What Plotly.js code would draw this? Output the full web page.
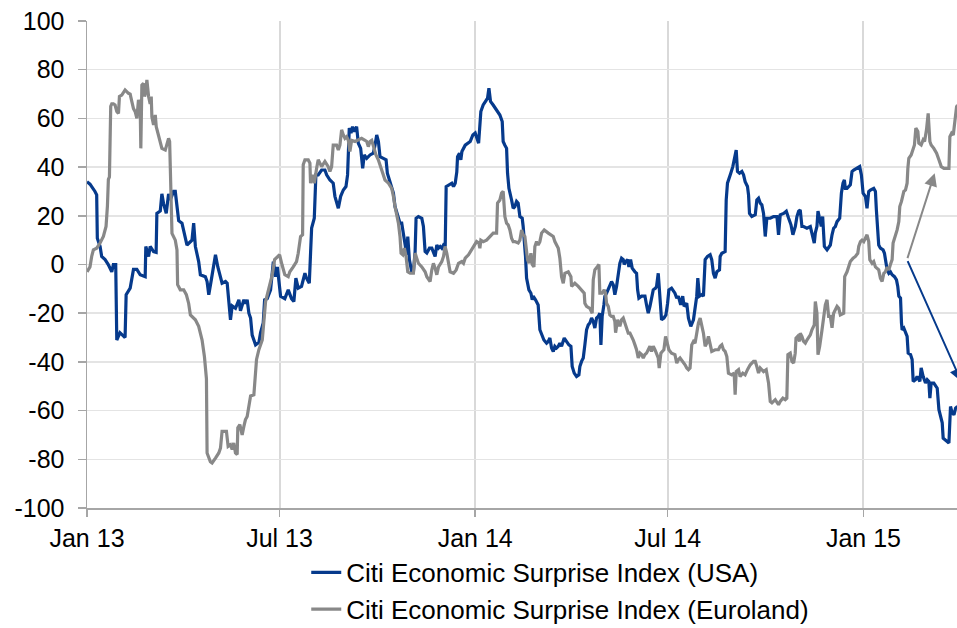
<!DOCTYPE html>
<html>
<head>
<meta charset="utf-8">
<script src="https://cdn.plot.ly/plotly-3.0.1.min.js"></script>
<style>
  html, body { margin: 0; padding: 0; background: #fff; }
  #chart { width: 957px; height: 628px; }
</style>
</head>
<body>
<div id="chart"></div>
<script>
// Days since 1 Jan 2013 and index values.
const seriesNames = ["Citi Economic Surprise Index (USA)", "Citi Economic Surprise Index (Euroland)"];

const usaDay = [
  0,2.8,7.5,9.1,9.7,12.3,13.8,17,20,23.3,
  24.8,27,28,31,35.8,36.8,40.6,43.7,46.9,50,
  54.7,55.3,57.9,59.4,62.6,65,65.7,68.9,70.4,72,
  74.5,76.7,78.3,81.4,83,84.6,86.2,89.3,92.5,94,
  98.7,100.3,101.9,105,106.6,111.3,112.9,114.5,117,119.2,
  120.8,123,127,130.2,131.8,134.9,136.5,139.6,142.8,144.3,
  147.5,149,150.6,152.2,153.8,155.3,158.5,161.6,163.2,165.7,
  167,169.5,172.6,175.2,177.4,179,180.5,182,
  186,189.2,192.3,194.5,196.4,198.6,201.7,204.9,206.4,209,
  210.2,211.2,213.7,215.2,217.4,220.6,223.7,225.3,228.4,231.5,
  233.1,236.3,238.5,241,243.5,245,246.6,248.2,249.7,251.3,
  253.5,255.1,257.3,259.2,260.7,263,266.1,269.2,270.8,272.4,
  274,275.5,278.6,281.2,282.4,285,286.5,288.1,289.6,292.8,
  294.3,295.9,297.5,299,300.6,301.6,303.1,305.3,306.9,308.5,
  309.4,311.6,314.8,316.3,317,317.9,319.5,322,324.2,325.8,
  327.3,328.9,330.5,332.1,333.6,335.2,336.8,337.7,339.9,343,
  344.6,346.2,347.7,348.4,350.2,351.5,352.5,354,355.6,360.3,
  362.8,365,368.2,
  370.3,372.5,374.7,376.6,377.9,379.4,381.9,385.1,388.2,390.4,
  391.3,392.9,394.5,395.4,396.7,399.2,400.7,402.3,403.9,405.4,
  407,409.2,410.1,412.3,413.3,415.5,417.4,418.6,419.5,421.7,
  424.2,425.8,427.4,429.6,432.1,433.7,435.2,436.8,438.4,439.9,
  441.5,443.1,444.6,446.2,448.7,450.9,453.1,455,456.2,458.1,
  460.3,462.5,463.4,465,466.6,468.1,469.7,471.3,472.8,474.4,
  476,477.5,479.1,480.7,482.2,483.2,484.4,486,486.9,488.5,
  490.1,491.6,493.2,494.8,496.3,497.9,499.5,501,502.6,504.2,
  505.1,506.4,508.3,509.5,511.1,512.6,515.2,516.7,517.7,518.9,
  521.4,524.6,526.1,527.7,529.3,530.8,532.4,534.6,535.5,537.1,
  538.7,540.2,542.4,544.3,545.9,547.1,549.6,552.8,
  554.5,556,558.2,560.1,561.4,563.9,565.5,567.7,570.2,571.7,
  573.3,574.3,575.8,578,579.6,581.2,583.4,585.9,587.4,589,
  590.6,592.2,594.7,595.3,596.9,600,601,602.2,604.1,605.3,
  607.2,608.5,610.4,611.6,613.5,615.7,617.3,618.8,621,622,
  622.9,625.1,628.3,629.8,631.4,633,634.5,636.1,637.7,639.2,
  642.4,645.5,648.7,650.2,651.8,655,657.5,659.7,661.9,663.7,
  666,667.5,669.1,670.6,672.2,673.8,676.9,680.1,681.6,683.8,
  684.8,686.3,687.3,688.9,690.4,691.7,693.3,695.8,698.9,700.5,
  702,703.6,705.2,707.7,709.3,710.8,712.1,713,714.6,717.7,
  719.3,720.9,724,726.5,728.1,729.7,731.9,733.4,735,
  736.6,739.7,741.3,742.2,743.5,744.4,746,748.5,749.8,750.7,
  752.3,753.9,755.4,757,759.2,761.1,762.3,763.3,764.9,765.8,
  766.4,768,769.6,771.1,772.1,774.3,775.8,776.8,779,780.5,
  783.1,784.3,786.2,788.4,790,791.5,792.5,793.7,796.2,799.4,
  801,802.5,804.1,805,807.2,809.4,810.4,811.9,813.5,815.1,
  816.7,818.5
];
const usaVal = [
  34,33,30,28.6,10.8,7.4,3.3,2,0,-3,
  0,0,-31,-28,-30,-12.4,-9.7,-2,-2,-4.2,
  -5,7.4,3.3,7.4,5.3,5,21,22,29,25,
  21,29,26.5,30,30,25,18,17,10,8,
  10,17,7.4,1.2,-4.2,-5,-7,-12.4,-6,-1,
  4,-1,-7.7,-7,-7.7,-22.7,-17,-18,-14.5,-19,
  -14.5,-16,-14.5,-20,-22,-29,-33,-32,-28,-24,
  -14.5,-14,-10.4,1.2,-5,-1,-7,-13,
  -14,-10.4,-14,-15.2,-5.6,-9.7,-9,-3.6,-5.6,-7.7,
  4.6,15,19,36.8,36.8,38.8,38.8,36.8,34.7,33.4,
  28,23.1,28,30.6,32,36.8,56,54,56.6,54.6,
  56.6,49.8,47.7,39.5,45,43.6,45,45.7,49,53.2,
  50.5,44.3,43.6,43,37.5,34,31.3,29.3,23.8,19.7,
  17,17,12.9,10,4,11.5,2,-3,-3,5.3,
  19,19.7,19,15.6,9.4,5.3,4.7,6.7,6.7,5.3,
  3.3,8,6.7,7.4,6.7,8,7.4,32,32.7,33.4,
  32,33.4,38,44.3,45.7,43,46.4,47.7,49,50.5,
  53.2,54,49.8,
  62.8,65.5,67,68.3,72.4,67,65.5,63.5,61.4,58.7,
  50.5,49,47.7,37.5,31.3,26.5,23.1,23.8,25.9,25.2,
  19.7,19,15.6,3.3,-5.6,-10.4,-11.8,-14.5,-13,-14.5,
  -16.6,-26.8,-28.9,-31,-32.3,-31.6,-30.2,-34.3,-35.7,-33.6,
  -34.3,-33.6,-32.3,-33.6,-30.2,-31.6,-33,-33.6,-41.9,-44.6,
  -46,-45.3,-41.9,-39.8,-38.4,-33,-26.8,-24.8,-24,-22,
  -23.4,-26.1,-22,-21.3,-20,-33,-21.3,-16.6,-13,-11.8,
  -10.4,-9,-7,-8.3,-12.4,-9,-3.6,0.5,2.6,2,
  0,1.2,2,-1,2,-1.5,-3,-3.6,-10.4,-13.8,
  -13,-13,-16.6,-20,-17.2,-13,-10.4,-9.7,-9,-3.6,
  -11.8,-22.7,-22,-20.7,-15.9,-10.4,-9.7,-11.8,
  -13.8,-13,-16.6,-13,-17.2,-15.9,-22,-25.4,-22.7,-17.2,
  -13,-5.6,-13,-12.4,-13,2,3.3,4,2,-3.6,
  -5.6,-3,-2.2,3.3,4.6,5.3,26.5,33.4,35.4,37.5,
  40.2,42.8,47,38.2,37.5,38.2,36.8,34,32,28.6,
  21,19.7,20.4,26.5,27.2,25.2,24.5,21,11.5,19,
  19,19.7,19.7,12.2,20.4,21,21.9,19,16.3,12.2,
  15.6,19.7,21.9,22.4,15.6,15.6,14.9,15.6,12.2,8.8,
  13,15.6,21.9,19,15.6,19.7,7.4,6,8,12.2,
  14.9,15.6,17.6,19,29.3,33.4,34.7,31.3,31.3,32.7,
  38.2,38.8,39.5,40.2,36.8,29.3,27.9,23.1,30,
  30.6,31.3,30,22.4,15.6,8,6.7,6,4.6,2.6,
  -2.2,-3.6,-3,-4.2,-5,-6.3,-9,-13,-13.8,-24,
  -26.8,-26.1,-28.2,-29.5,-36.4,-37,-39,-48,-47.3,-46,
  -48,-42.5,-46,-48.7,-47.3,-48,-54.9,-48.7,-48.7,-50.8,
  -59.6,-63,-65,-71.3,-72,-72.6,-73.3,-58.3,-61,-61.7,
  -59,-58.3
];

const eurDay = [
  0,2.8,4.4,6,9.1,12.3,15.4,17.9,19.2,20.1,
  21.1,22.3,23.3,24.8,26.4,28,29.6,30.5,32.7,34.3,
  35.8,39,40.6,42.1,43.7,45.3,46.9,48.4,50,50.6,
  51.6,53.1,54.1,55.3,56.3,57.9,59.4,60.4,61,62.6,
  64.2,65.1,67.3,70.4,73.6,76.7,77.7,78.9,79.9,83,
  84.6,85.2,87.7,90.9,93.4,95.6,97.2,101.9,105,108.2,
  110.4,112.3,112.9,116,117.6,120.8,123.9,125.5,127,131.1,
  132.7,134.9,136.5,138,139.6,141.2,141.8,143.7,145.9,147.5,
  149,150.6,153.8,156.9,159.4,161.6,164.8,167.9,171.1,174.2,
  176.4,178.9,181.1,183.3,186,
  189.2,190.7,193.9,195.4,197,198.6,200.8,202.7,203.3,204.9,
  208,209.6,210.2,212.1,213.7,215.9,217.4,220.6,223.7,226.8,
  228.4,230,231.5,234.7,236.3,237.8,239.4,241,242.5,244.1,
  245.7,247.2,248.8,252,255.1,258.2,261.4,263,264.5,266.1,
  267.7,269.9,271.7,273.9,277.1,280.2,283.4,286.5,288.1,289.6,
  292.8,294.3,295.3,296.9,298.4,300,301.6,303.8,306.9,308.5,
  310,311.6,314.8,317.9,319.5,321,322.6,324.2,325.7,327.3,
  328.9,330.5,333.6,335.2,336.7,338.3,339.9,341.4,344.6,347.1,
  349.3,352.4,354,355.6,358.7,361.8,365,
  366.3,368.4,369.4,370.3,372.5,375.7,378.8,381.9,385.1,386,
  388.2,389.8,391.3,392.9,394.5,396,397.6,399.2,400.7,402.3,
  405.4,407,408.6,410.1,411.7,413.3,414.2,415.5,417.4,418.6,
  420.2,421.1,422.7,424.2,425.8,427.4,429.9,433.7,438.4,439.9,
  443.1,444.6,446.2,447.8,449.3,452.5,455,455.6,457.2,458.7,
  461.9,465,467.5,468.1,469.7,472.8,473.8,475,476,477.5,
  480,481.3,482.2,484.4,486.3,487.6,488.5,490.1,491.6,493.2,
  494.8,496.3,497,498.9,501,502.6,504.2,505.8,507.3,508.9,
  510.5,512,513.6,515.2,516.7,518.3,519.9,521.4,523,524.6,
  526.1,527.7,529.3,530.8,532.4,534,535.5,537.1,538,539.6,
  540.9,542.4,544,545.6,547.1,549.6,552.8,
  554.5,556,557.6,560.1,562.3,563.9,565.5,567,568.6,570.2,
  571.7,573.3,574.9,576.5,578,579.6,581.2,582.7,584.3,585.9,
  587.4,590.6,593.7,595.3,596.9,598.4,600,601.6,603.1,606.3,
  608.5,609.4,610.4,612.6,614.1,616.6,618.8,621,623.6,626.7,
  628.3,629.8,631.4,633,636.1,638.6,639.9,640.8,642.4,644,
  647.1,650.2,651.8,654.3,656.5,658,659,661.2,662.8,664.4,
  665.9,666.6,668.1,670,670.6,672.2,673.8,675.4,676.9,680.1,
  681.6,683.8,684.8,686.3,687.3,688.9,691.1,692.6,694.2,695.8,
  697.3,698.9,700.5,702,703.6,705.2,706.8,708.3,711.5,712.4,
  714.6,716.2,717.7,720.3,722.5,724.7,725.6,727.2,728.7,730.3,
  731.9,733.4,735,736,
  738.2,739.7,741.3,742.9,744.4,746,747.6,749.2,750.7,752.3,
  753.9,755.4,757,757.9,759.5,761.7,763.3,764.2,765.8,768,
  769.6,771.1,771.8,772.7,774.9,776.8,778,779.3,781.2,782.1,
  784.3,786.2,787.5,789.3,790.9,792.5,793.7,796.2,798.8,801,
  803.2,805.7,808.2,810.4,811.3,812.9,814.5,815.7,816.7,817.6,
  818.5
];
const eurVal = [
  -3,-1,3.3,6,6.7,8.8,11.5,15.6,24,35,
  36,65,66,66,65.5,62.8,62,69,69.6,71,
  71.7,70.3,70,67,64,62.8,60,67.6,65,47.7,
  73.7,74.4,69,71,75.8,69,66,69,60.7,57.3,
  61.4,56.6,52.5,47.7,47,51.8,50.5,26.5,12.8,10,
  6,-8.3,-10.4,-10.4,-12.4,-16,-20.7,-22.7,-25.4,-31,
  -37.8,-47,-77.4,-81,-81.5,-79.5,-77.4,-75.4,-68.5,-68.5,
  -74.7,-74,-76,-73.3,-77.4,-78,-67,-65.8,-70,-66.5,
  -63.7,-62.4,-54,-53.5,-39,-35,-31,-15.2,-9,-4.2,
  2,3.3,4,0,-4.2,
  -5,-3,-1,0,1.2,4.6,11.5,12.2,41,43,
  43,41.6,33.4,36.8,33.4,39.5,43,40.2,42.3,40.2,
  38.2,40.2,49,49,47,49,55.3,53.2,51.8,52.5,
  51,46.4,51,50.5,51,51.8,51,50.5,48.4,50.5,
  51,47,45,43,38.8,34.7,33.4,31.3,28,23.8,
  17,11.5,4.6,4,6.7,3.3,-3,-3.6,-3.6,4.7,
  2.6,0.5,-1,-3,-5,-6.3,-7,-2.2,0.5,-1.5,
  -4.2,-1,1.2,3.3,7.4,4.6,0.5,-3,-3.6,-2.2,
  0.5,1.2,0.5,2.6,4,6,8,
  9.4,8.8,6.7,10,9.4,10,11.5,12.9,12.9,25.2,
  26.5,29.3,30,19.7,17,16.3,14.2,10.8,9.4,9.4,
  8.8,10,14.2,12.2,11.5,6,2,0.5,4.6,0,
  -1,7.4,9.4,8,9.4,12.9,14.2,12.9,11.5,9.4,
  6.7,2.6,-5,-7.7,-3.6,-3,-5,-9,-8.3,-7.7,
  -9,-10.4,-11.8,-15.9,-17.2,-18,-19.3,-20,-6.3,-2.2,
  -0.8,0,-11.8,-11.8,-10.4,-11.8,-15.9,-17.2,-20.7,-21.3,
  -21.3,-23.4,-28,-22.7,-25.4,-22.7,-22,-24,-26.8,-28.2,
  -28.2,-29.5,-31,-33,-35,-38.4,-36.4,-37,-38.4,-37,
  -36.4,-35,-33.6,-35.7,-33.6,-35,-36.4,-38.4,-42.5,-36.4,
  -35.7,-35,-29.5,-32.3,-35,-36.4,-37,
  -40.5,-39.1,-38.4,-39.8,-41.2,-42.5,-43.2,-42.5,-33,-31.6,
  -32.3,-28.2,-24,-22,-24.8,-28.2,-33.6,-32.3,-29.5,-32.3,
  -35.7,-35,-35,-33.6,-33,-35,-35.7,-37.8,-44.6,-45.3,
  -44.6,-53.5,-44,-43.2,-46,-44.6,-45.3,-43.2,-41.2,-39.8,
  -39.8,-41.9,-44.6,-42.5,-44,-43.2,-46,-48.7,-56.2,-56.8,
  -55.5,-57.6,-56.2,-54.9,-55.5,-54.9,-37,-36.4,-39.8,-40.5,
  -36.4,-30.2,-29.5,-31.6,-28.2,-29.5,-31.6,-32.3,-31,-28.9,
  -26.8,-24.8,-15.2,-20,-37,-33.6,-26.8,-21.3,-16.6,-14.5,
  -21.3,-21.3,-26,-20,-18.5,-17.2,-18,-20.7,-20,-5,
  -3,-1,1.2,2.6,3.3,4.6,7.4,9.4,10,9.4,
  10.8,12.2,9.4,2,
  0.5,1.2,-1,-1.5,-2.2,-5.6,-7,-3.6,-3,-1,
  -2.2,0,2,8.8,10.8,14.2,17.6,23.8,25.9,30,
  30.6,33.4,39.5,43.6,45,47,49.1,56,54.6,49.8,
  49.1,51.2,50.5,55.3,62.1,50.5,49.1,47.7,45.7,43,
  40.2,39.5,39.5,39.5,52.5,53.9,53.2,58.7,62.1,64.8,
  65.5
];

// Y tick values and labels (plain hyphen minus, as in the reference)
const yTickVals = [-100,-80,-60,-40,-20,0,20,40,60,80,100];
const yTickText = ["-100","-80","-60","-40","-20","0","20","40","60","80","100"];

// Trend arrows: tail [day, value] and heads [day, value]
const arrowTail = [771, 2];
const arrowHeadEur = [797, 37.5];
const arrowHeadUsa = [822, -48];

const xRangeDays = [0, 818];
const yRange = [-100, 100];

const BASE = Date.UTC(2013, 0, 1);
function toDate(d) {
  const t = new Date(BASE + d * 86400000);
  return t.toISOString().slice(0, 19).replace('T', ' ');
}

const BLUE = '#063a8c';
const GREY = '#888888';

const traces = [
  {
    x: usaDay.map(toDate), y: usaVal, type: 'scatter', mode: 'lines',
    name: seriesNames[0], line: { color: BLUE, width: 3.2 }
  },
  {
    x: eurDay.map(toDate), y: eurVal, type: 'scatter', mode: 'lines',
    name: seriesNames[1], line: { color: GREY, width: 3.2 }
  }
];

const layout = {
  width: 957, height: 628,
  margin: { l: 87, r: 0, t: 21, b: 120, pad: 0, autoexpand: false },
  paper_bgcolor: '#ffffff', plot_bgcolor: '#ffffff',
  font: { family: 'Liberation Sans, Arial, sans-serif', color: '#000000', size: 25 },
  showlegend: true,
  legend: {
    orientation: 'v', x: 0.252, xanchor: 'left', y: -0.084, yanchor: 'top',
    font: { size: 26, color: '#000000' }, bgcolor: 'rgba(0,0,0,0)', tracegroupgap: 0
  },
  xaxis: {
    type: 'date', range: [toDate(xRangeDays[0]), toDate(xRangeDays[1])],
    tick0: '2013-01-01', dtick: 'M6', tickformat: '%b %y',
    ticks: 'outside', ticklen: 7, tickwidth: 1.5, tickcolor: '#a6a6a6',
    showline: true, linecolor: '#a6a6a6', linewidth: 1.5,
    showgrid: true, gridcolor: '#d9d9d9', gridwidth: 2,
    zeroline: false, tickfont: { size: 25 }, fixedrange: true
  },
  yaxis: {
    range: yRange, tickmode: 'array', tickvals: yTickVals, ticktext: yTickText,
    ticks: 'outside', ticklen: 8, tickwidth: 1.5, tickcolor: '#a6a6a6',
    showline: true, linecolor: '#a6a6a6', linewidth: 1.5,
    showgrid: true, gridcolor: '#e4e4e4', gridwidth: 1.5,
    zeroline: false, tickfont: { size: 25 }, ticklabelstandoff: 8, fixedrange: true
  },
  annotations: [
    {
      xref: 'x', yref: 'y', axref: 'x', ayref: 'y',
      x: toDate(arrowHeadEur[0]), y: arrowHeadEur[1],
      ax: toDate(arrowTail[0]), ay: arrowTail[1],
      text: '', showarrow: true, arrowhead: 2, arrowsize: 1.3, arrowwidth: 2, arrowcolor: GREY
    },
    {
      xref: 'x', yref: 'y', axref: 'x', ayref: 'y',
      x: toDate(arrowHeadUsa[0]), y: arrowHeadUsa[1],
      ax: toDate(arrowTail[0]), ay: arrowTail[1],
      text: '', showarrow: true, arrowhead: 2, arrowsize: 1.3, arrowwidth: 2, arrowcolor: BLUE
    }
  ]
};

Plotly.newPlot('chart', traces, layout, { displayModeBar: false, staticPlot: true });
</script>
</body>
</html>
